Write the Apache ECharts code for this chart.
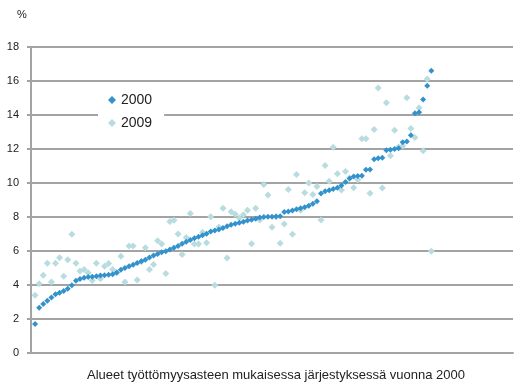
<!DOCTYPE html>
<html>
<head>
<meta charset="utf-8">
<script src="https://cdn.jsdelivr.net/npm/echarts@6/dist/echarts.min.js"></script>
<style>
  html, body { margin: 0; padding: 0; background: #fff; }
  #chart { width: 515px; height: 387px; }
</style>
</head>
<body>
<div id="chart"></div>
<script>
// regions ordered by their 2000 unemployment rate
var years = ['2000', '2009'];
var yTicks = [0, 2, 4, 6, 8, 10, 12, 14, 16, 18];

var rate2000 = [
    1.71, 2.66, 2.88, 3.07, 3.27, 3.45, 3.55, 3.65, 3.78, 3.98,
    4.25, 4.36, 4.42, 4.47, 4.49, 4.52, 4.56, 4.58, 4.60, 4.63,
    4.74, 4.90, 5.00, 5.10, 5.19, 5.29, 5.39, 5.49, 5.62, 5.74,
    5.83, 5.92, 5.99, 6.09, 6.19, 6.29, 6.43, 6.55, 6.65, 6.75,
    6.84, 6.92, 7.02, 7.15, 7.21, 7.27, 7.36, 7.46, 7.54, 7.61,
    7.66, 7.72, 7.79, 7.84, 7.90, 7.97, 8.00, 8.01, 8.02, 8.03,
    8.04, 8.30, 8.32, 8.38, 8.46, 8.51, 8.57, 8.66, 8.78, 8.92,
    9.38, 9.52, 9.58, 9.64, 9.72, 9.86, 10.06, 10.27, 10.38, 10.41,
    10.42, 10.78, 10.80, 11.40, 11.45, 11.48, 11.93, 11.96, 12.00, 12.05,
    12.40, 12.44, 12.81, 14.10, 14.16, 14.91, 15.72, 16.60
];

var rate2009 = [
    3.40, 4.08, 4.58, 5.28, 4.18, 5.28, 5.61, 4.52, 5.49, 6.99,
    5.28, 4.82, 4.91, 4.72, 4.27, 5.28, 4.37, 5.11, 5.26, 4.91,
    4.72, 5.69, 4.18, 6.30, 6.30, 4.30, 5.37, 6.19, 4.91, 5.20,
    6.60, 6.41, 4.68, 7.73, 7.81, 7.00, 5.80, 6.80, 8.21, 6.41,
    6.41, 7.10, 6.49, 8.01, 3.99, 7.41, 8.52, 5.59, 8.31, 8.16,
    7.94, 8.13, 8.39, 6.42, 8.51, 7.82, 9.91, 9.29, 7.40, 8.02,
    6.46, 7.59, 9.62, 6.99, 10.50, 8.40, 9.42, 10.00, 9.33, 9.80,
    7.82, 11.03, 10.11, 12.11, 10.54, 9.59, 10.68, 10.30, 9.72, 10.19,
    12.60, 12.60, 9.40, 13.15, 15.59, 9.71, 14.72, 11.61, 13.10, 12.12,
    12.17, 15.01, 13.20, 12.68, 14.42, 11.90, 16.12, 5.98
];

function toPoints(values) {
    var out = [];
    for (var i = 0; i < values.length; i++) {
        out.push([i + 1, values[i]]);
    }
    return out;
}

var gridColor = '#a3a3a3';

var myChart = echarts.init(document.getElementById('chart'));
myChart.setOption({
    animation: false,
    textStyle: { fontFamily: 'Liberation Sans, Arial, sans-serif' },
    title: {
        text: '%',
        left: 12,
        top: 4,
        textStyle: { fontSize: 11, fontWeight: 'normal', color: '#222' }
    },
    legend: {
        data: years,
        orient: 'vertical',
        left: 98,
        top: 89,
        padding: [4, 12, 4, 10],
        backgroundColor: '#fff',
        itemWidth: 8,
        itemHeight: 8,
        itemGap: 9,
        textStyle: { fontSize: 14, color: '#222' }
    },
    grid: { left: 31, right: 2, top: 47, bottom: 31, containLabel: false },
    xAxis: {
        type: 'value',
        min: 0,
        max: 118,
        name: 'Alueet työttömyysasteen mukaisessa järjestyksessä vuonna 2000',
        nameLocation: 'middle',
        nameGap: 16,
        nameTextStyle: { fontSize: 13, color: '#222', padding: [0, 0, 0, 8] },
        axisLine: { show: true, lineStyle: { color: gridColor, width: 2 } },
        axisTick: { show: false },
        axisLabel: { show: false },
        splitLine: { show: false }
    },
    yAxis: {
        type: 'value',
        min: yTicks[0],
        max: yTicks[yTicks.length - 1],
        interval: 2,
        axisLine: { show: true, lineStyle: { color: gridColor, width: 2 } },
        axisTick: { show: true, length: 4, lineStyle: { color: gridColor, width: 2 } },
        axisLabel: { margin: 12, fontSize: 11, color: '#222' },
        splitLine: { show: true, lineStyle: { color: gridColor, width: 2 } }
    },
    series: [{
        name: years[0],
        type: 'scatter',
        symbol: 'diamond',
        symbolSize: 6,
        z: 3,
        itemStyle: { color: '#3392CB', opacity: 1 },
        data: toPoints(rate2000)
    }, {
        name: years[1],
        type: 'scatter',
        symbol: 'diamond',
        symbolSize: 7,
        z: 2,
        itemStyle: { color: '#B8DCDF', opacity: 1 },
        data: toPoints(rate2009)
    }]
});
</script>
</body>
</html>
